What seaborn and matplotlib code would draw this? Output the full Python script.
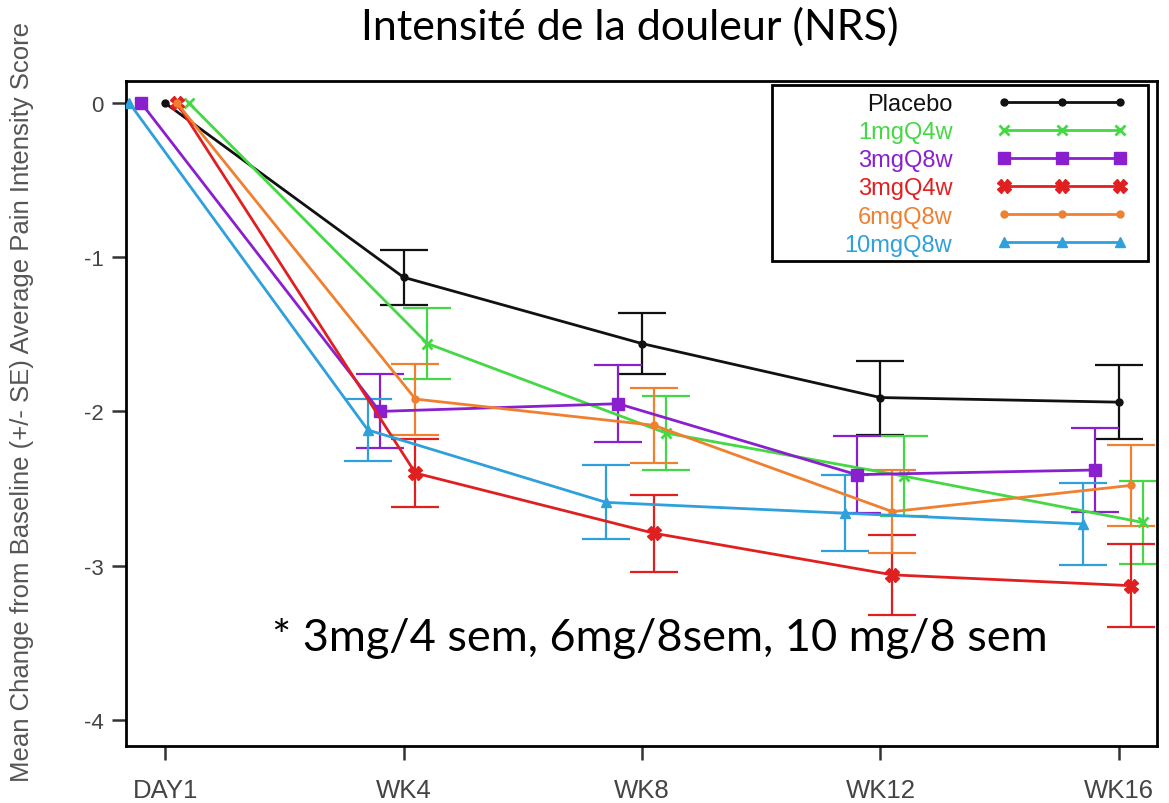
import numpy as np
import pandas as pd
import matplotlib
matplotlib.use("Agg")
import matplotlib.pyplot as plt
from matplotlib.patches import Rectangle
import seaborn as sns

# ---- donnees ----
visits = ["DAY1", "WK4", "WK8", "WK12", "WK16"]
groups = ["Placebo", "1mgQ4w", "3mgQ8w", "3mgQ4w", "6mgQ8w", "10mgQ8w"]

placebo_mean = [0, -1.13, -1.56, -1.91, -1.94]
placebo_se = [0, 0.18, 0.20, 0.24, 0.24]
g1q4_mean = [0, -1.56, -2.14, -2.42, -2.72]
g1q4_se = [0, 0.23, 0.24, 0.26, 0.27]
g3q8_mean = [0, -2.00, -1.95, -2.41, -2.38]
g3q8_se = [0, 0.24, 0.25, 0.25, 0.27]
g3q4_mean = [0, -2.40, -2.79, -3.06, -3.13]
g3q4_se = [0, 0.22, 0.25, 0.26, 0.27]
g6q8_mean = [0, -1.92, -2.09, -2.65, -2.48]
g6q8_se = [0, 0.23, 0.245, 0.27, 0.26]
g10q8_mean = [0, -2.12, -2.59, -2.66, -2.73]
g10q8_se = [0, 0.20, 0.24, 0.245, 0.265]

means = [placebo_mean, g1q4_mean, g3q8_mean, g3q4_mean, g6q8_mean, g10q8_mean]
ses = [placebo_se, g1q4_se, g3q8_se, g3q4_se, g6q8_se, g10q8_se]

# ---- styles ----
colors = {"Placebo": "#111111", "1mgQ4w": "#44d844", "3mgQ8w": "#8a1fd0",
          "3mgQ4w": "#e02020", "6mgQ8w": "#f08030", "10mgQ8w": "#2ea0dc"}
markers = {"Placebo": "o", "1mgQ4w": "x", "3mgQ8w": "s",
           "3mgQ4w": "X", "6mgQ8w": "o", "10mgQ8w": "^"}
msizes = {"Placebo": 5, "1mgQ4w": 7, "3mgQ8w": 8,
          "3mgQ4w": 10, "6mgQ8w": 5, "10mgQ8w": 7}
dodge = {"Placebo": 0.0, "1mgQ4w": 0.10, "3mgQ8w": -0.10,
         "3mgQ4w": 0.05, "6mgQ8w": 0.05, "10mgQ8w": -0.15}

rows = []
for g, m, s in zip(groups, means, ses):
    for i, v in enumerate(visits):
        rows.append({"group": g, "visit": v, "t": i, "mean": m[i], "se": s[i]})
df = pd.DataFrame(rows)
df["x"] = df["t"] + df["group"].map(dodge)

sns.set_style("white")

fig = plt.figure(figsize=(11.69, 8.04), dpi=100)
ax = fig.add_axes([126 / 1169, 1 - 747 / 804, (1157 - 126) / 1169, (747 - 82) / 804])

# barres d'erreur d'abord, lignes par-dessus
for g in groups:
    d = df[(df["group"] == g) & (df["t"] > 0)]
    ax.errorbar(d["x"], d["mean"], yerr=d["se"], fmt="none",
                ecolor=colors[g], elinewidth=1.6, capsize=17, capthick=1.6, zorder=2)

for g in groups:
    d = df[df["group"] == g]
    mk = markers[g]
    sns.lineplot(data=d, x="x", y="mean", ax=ax, color=colors[g], linewidth=2,
                 marker=mk, markersize=msizes[g], markeredgecolor=colors[g],
                 markeredgewidth=2 if mk == "x" else 1,
                 label=g, sort=False, estimator=None, zorder=3)

ax.set_xlim(-0.164, 4.16)
ax.set_ylim(-4.17, 0.143)
ax.set_xticks(range(len(visits)))
ax.set_xticklabels(visits)
ax.set_yticks([0, -1, -2, -3, -4])
ax.set_yticklabels(["0", "-1", "-2", "-3", "-4"])
ax.set_xlabel("")
ax.set_ylabel("")

for sp in ax.spines.values():
    sp.set_visible(True)
    sp.set_color("black")
    sp.set_linewidth(2)

ax.tick_params(axis="both", direction="out", length=10, width=1.8, color="#333333",
               labelcolor="#444444", bottom=True, left=True)
ax.tick_params(axis="x", labelsize=18.5, pad=13)
ax.tick_params(axis="y", labelsize=16, pad=6)
for lab in ax.get_xticklabels() + ax.get_yticklabels():
    lab.set_family("Liberation Sans")

# legende : texte a gauche (aligne a droite), cadre dessine a part
handles, labels = ax.get_legend_handles_labels()
leg = ax.legend(handles, labels, loc="upper right", bbox_to_anchor=(0.9709, 0.982),
                borderaxespad=0, borderpad=0, numpoints=3, markerfirst=False,
                handlelength=5.5, handletextpad=1.9, labelspacing=0.26, frameon=False,
                labelcolor="linecolor", prop={"family": "Liberation Sans", "size": 17})
for t in leg.get_texts():
    t.set_ha("right")
leg._legend_box.align = "right"
ax.add_patch(Rectangle((0.6266, 0.7293), 0.9913 - 0.6266, 0.994 - 0.7293,
                       transform=ax.transAxes, fill=False, edgecolor="black",
                       linewidth=2, zorder=5))

fig.text(22 / 1169, 0.5, "Mean Change from Baseline (+/- SE) Average Pain Intensity Score",
         rotation=90, ha="center", va="center", fontsize=18.5, color="#555555",
         family="Liberation Sans")

fig.text(630 / 1169, 1 - 40 / 804, "Intensité de la douleur (NRS)", ha="center",
         va="baseline", fontsize=31, family="Lato", color="black")
fig.text(660 / 1169, 1 - 651 / 804, "* 3mg/4 sem, 6mg/8sem, 10 mg/8 sem", ha="center",
         va="baseline", fontsize=32.5, family="Lato", color="black")

fig.savefig("out.png", dpi=100)
